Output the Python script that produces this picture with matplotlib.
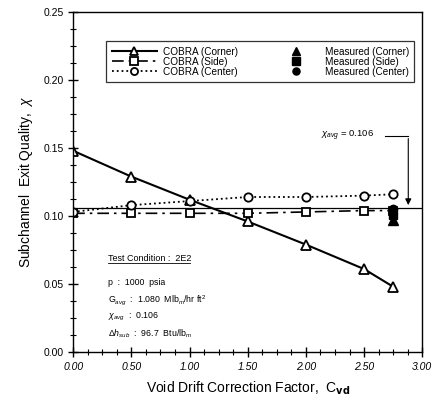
import matplotlib
matplotlib.use("Agg")
import matplotlib.pyplot as plt
from matplotlib.ticker import MultipleLocator, AutoMinorLocator, FormatStrFormatter

plt.rcParams["font.family"] = ["Liberation Sans", "DejaVu Sans"]
plt.rcParams["mathtext.fontset"] = "custom"
plt.rcParams["mathtext.rm"] = "Liberation Sans"
plt.rcParams["mathtext.it"] = "Liberation Sans:italic"

# COBRA predictions vs void drift coefficient
cvd = [0.0, 0.5, 1.0, 1.5, 2.0, 2.5, 2.75]
corner = [0.148, 0.129, 0.112, 0.096, 0.079, 0.061, 0.048]
side = [0.102, 0.102, 0.102, 0.102, 0.103, 0.104, 0.104]
center = [0.103, 0.108, 0.111, 0.114, 0.114, 0.115, 0.116]

# measured values (plotted at Cvd = 2.75)
meas_x = 2.75
meas_corner = 0.097
meas_side = 0.101
meas_center = 0.105

x_avg = 0.106

fig = plt.figure(figsize=(4.38, 4.18), dpi=100)
ax = fig.add_axes([0.167, 0.158, 0.797, 0.813])

ax.axhline(x_avg, color="black", lw=0.9, zorder=1)

ax.plot(cvd, corner, "-", color="black", lw=1.5, marker="^", ms=7,
        mfc="white", mec="black", mew=1.3, label="COBRA (Corner)")
ax.plot(cvd, side, linestyle=(0, (7, 3, 1.5, 3)), color="black", lw=1.2, marker="s", ms=6,
        mfc="white", mec="black", mew=1.3, label="COBRA (Side)")
ax.plot(cvd, center, ":", color="black", lw=1.3, marker="o", ms=6,
        mfc="white", mec="black", mew=1.3, label="COBRA (Center)")

ax.plot([meas_x], [meas_corner], "^", color="black", ms=7, ls="none", label="Measured (Corner)")
ax.plot([meas_x], [meas_side], "s", color="black", ms=6, ls="none", label="Measured (Side)")
ax.plot([meas_x], [meas_center], "o", color="black", ms=6, ls="none", label="Measured (Center)")

ax.set_xlim(0, 3.0)
ax.set_ylim(0, 0.25)
ax.xaxis.set_major_locator(MultipleLocator(0.5))
ax.yaxis.set_major_locator(MultipleLocator(0.05))
ax.xaxis.set_minor_locator(AutoMinorLocator(4))
ax.yaxis.set_minor_locator(AutoMinorLocator(4))
ax.xaxis.set_major_formatter(FormatStrFormatter("%.2f"))
ax.yaxis.set_major_formatter(FormatStrFormatter("%.2f"))
ax.tick_params(which="major", direction="inout", length=7, width=1, labelsize=7.5)
ax.tick_params(which="minor", direction="inout", length=4, width=0.8)
for lbl in ax.get_xticklabels():
    lbl.set_fontstyle("italic")
for s in ax.spines.values():
    s.set_linewidth(1.0)

ax.set_xlabel(r"Void Drift Correction Factor,  C$_{\mathbf{vd}}$", fontsize=10, labelpad=6)
ax.set_ylabel(r"Subchannel  Exit Quality,  $\chi$", fontsize=10, labelpad=6)

leg = ax.legend(ncol=2, loc="upper center", bbox_to_anchor=(0.536, 0.915), fontsize=7.2,
                frameon=True, fancybox=False, edgecolor="black", handlelength=4.5,
                columnspacing=3.6, labelspacing=0.0, borderpad=0.55, handletextpad=0.6,
                borderaxespad=0.0, markerscale=0.85)
leg.get_frame().set_linewidth(0.9)

# chi_avg annotation with elbow arrow
ax.text(2.13, 0.159, r"$\chi_{avg}$ = 0.106", fontsize=6.8, va="center")
ax.plot([2.68, 2.88], [0.159, 0.159], color="black", lw=0.8)
ax.annotate("", xy=(2.88, x_avg), xytext=(2.88, 0.159),
            arrowprops=dict(arrowstyle="-|>", color="black", lw=0.8, mutation_scale=9))

# test condition box
tx = 0.3
ax.text(tx, 0.069, "Test Condition :  2E2", fontsize=6.5, va="center")
ax.plot([tx, tx + 0.7], [0.0655, 0.0655], color="black", lw=0.6)
ax.text(tx, 0.051, "p  :  1000  psia", fontsize=6.3, va="center")
ax.text(tx, 0.038, r"G$_{avg}$  :  1.080  Mlb$_m$/hr ft$^2$", fontsize=6.3, va="center")
ax.text(tx, 0.026, r"$\chi_{avg}$  :  0.106", fontsize=6.3, va="center")
ax.text(tx, 0.0135, r"$\Delta h_{sub}$  :  96.7  Btu/lb$_m$", fontsize=6.3, va="center")

fig.savefig("out.png", dpi=100)
